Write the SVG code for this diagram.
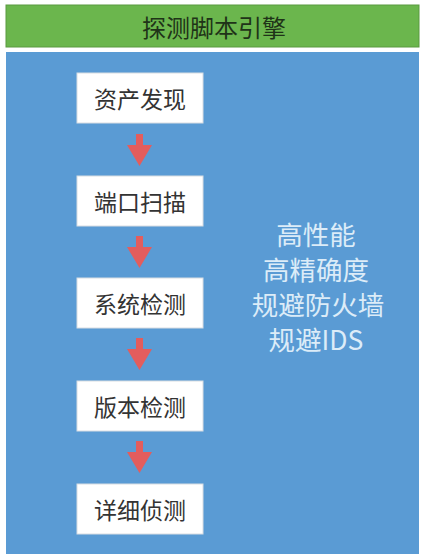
<svg xmlns="http://www.w3.org/2000/svg" width="422" height="559" viewBox="0 0 422 559">
<style>
.box{fill:#ffffff;stroke:#d8dde2;stroke-width:1}
.nt{font-family:"Noto Sans CJK SC","Noto Sans",sans-serif;font-size:23px;fill:#333333;text-anchor:middle}
.rt{font-family:"Noto Sans CJK SC","Noto Sans",sans-serif;font-size:26.5px;fill:#dcecf8;text-anchor:middle}
.arr{fill:#e35d5d}
</style>
<defs>
<path id="a" d="M-3.5,0 H3.5 V11 H12.5 L0,32 L-12.5,11 H-3.5 Z"/>
</defs>
<rect x="0" y="0" width="422" height="559" fill="#ffffff"/>
<g id="title">
<rect x="6" y="5" width="413" height="42" fill="#6bb64d" stroke="#5a9a40" stroke-width="1"/>
<text x="214" y="37" font-family="'Noto Sans CJK SC','Noto Sans',sans-serif" font-size="24" fill="#1f3318" text-anchor="middle">探测脚本引擎</text>
</g>
<g id="panel">
<rect x="6" y="52" width="413" height="502" fill="#5a9bd4"/>
</g>
<g id="connectors">
<use href="#a" class="arr" x="139.5" y="134"/>
<use href="#a" class="arr" x="139.5" y="236"/>
<use href="#a" class="arr" x="139.5" y="338"/>
<use href="#a" class="arr" x="139.5" y="441"/>
</g>
<g id="n1"><rect class="box" x="77" y="73" width="126" height="50"/><text class="nt" x="140" y="108">资产发现</text></g>
<g id="n2"><rect class="box" x="77" y="176" width="126" height="50"/><text class="nt" x="140" y="211">端口扫描</text></g>
<g id="n3"><rect class="box" x="77" y="278" width="126" height="50"/><text class="nt" x="140" y="313">系统检测</text></g>
<g id="n4"><rect class="box" x="77" y="381" width="126" height="50"/><text class="nt" x="140" y="416">版本检测</text></g>
<g id="n5"><rect class="box" x="77" y="484" width="126" height="50"/><text class="nt" x="140" y="519">详细侦测</text></g>
<g id="features">
<text class="rt" x="316" y="245">高性能</text>
<text class="rt" x="316" y="280">高精确度</text>
<text class="rt" x="318" y="315">规避防火墙</text>
<text class="rt" x="316" y="350">规避IDS</text>
</g>
</svg>
